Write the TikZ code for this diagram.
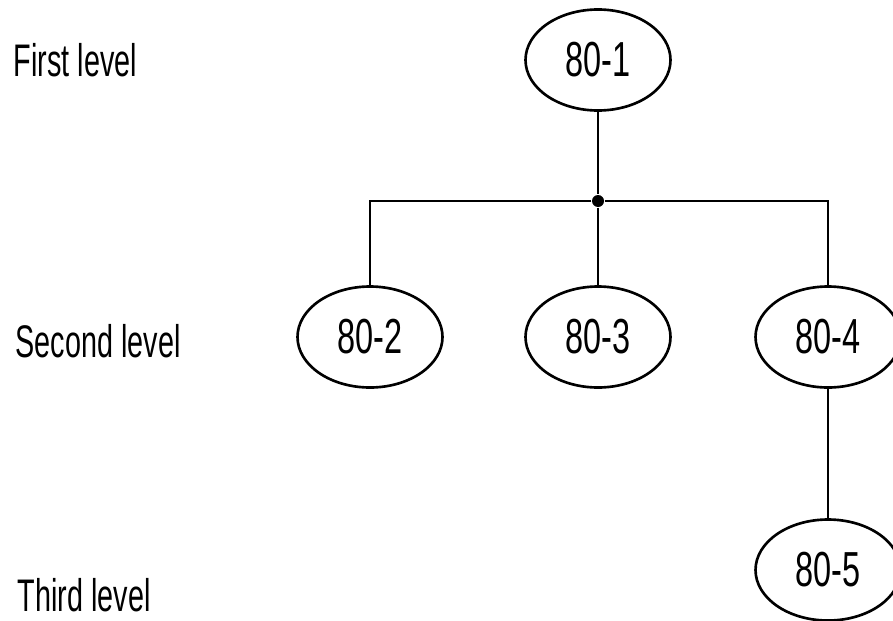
\documentclass[tikz,border=0pt]{standalone}
\usepackage{fontspec}
\setmainfont[FakeStretch=0.63]{Liberation Sans}
\newfontfamily\tagfont[FakeStretch=0.66]{Liberation Sans}
\usepackage{tikz}
\usetikzlibrary{arrows,shapes}
\tikzstyle{member}=[ellipse,draw,line width=0.75pt,minimum width=1.45cm,minimum height=1.01cm,inner sep=0pt,font=\tagfont\fontsize{14}{16}\selectfont]
\tikzstyle{edge} = [draw,line width=0.75pt,-]
\tikzstyle{tier}=[anchor=west,inner sep=0pt,font=\fontsize{13}{15}\selectfont]

\begin{document}
\begin{tikzpicture}
    \useasboundingbox (0,0) rectangle (8.93,6.2);
    % Draw the level captions on the left
    \foreach \pos/\name/\txt in {{(0.13,5.60)/first/First level}, {(0.15,2.79)/second/Second level}, {(0.17,0.25)/third/Third level}}
        \node[tier] (\name) at \pos {\txt};

    % Then the members of the tree
    \foreach \pos/\name/\txt in {{(5.98,5.60)/m1/80-1}, {(3.70,2.83)/m2/80-2}, {(5.98,2.83)/m3/80-3}, {(8.28,2.83)/m4/80-4}, {(8.28,0.50)/m5/80-5}}
        \node[member] (\name) at \pos {\txt};

    % Branching point below the first level
    \node[circle,fill=black,minimum size=0.12cm,inner sep=0pt] (hub) at (5.98,4.19) {};

    % Connect members with edges
    \path[edge] (m1) -- (hub);
    \path[edge] (hub) -| (m2);
    \path[edge] (hub) -| (m4);
    \foreach \source/ \dest in {hub/m3, m4/m5}
        \path[edge] (\source) -- (\dest) ;

\end{tikzpicture}
\end{document}
